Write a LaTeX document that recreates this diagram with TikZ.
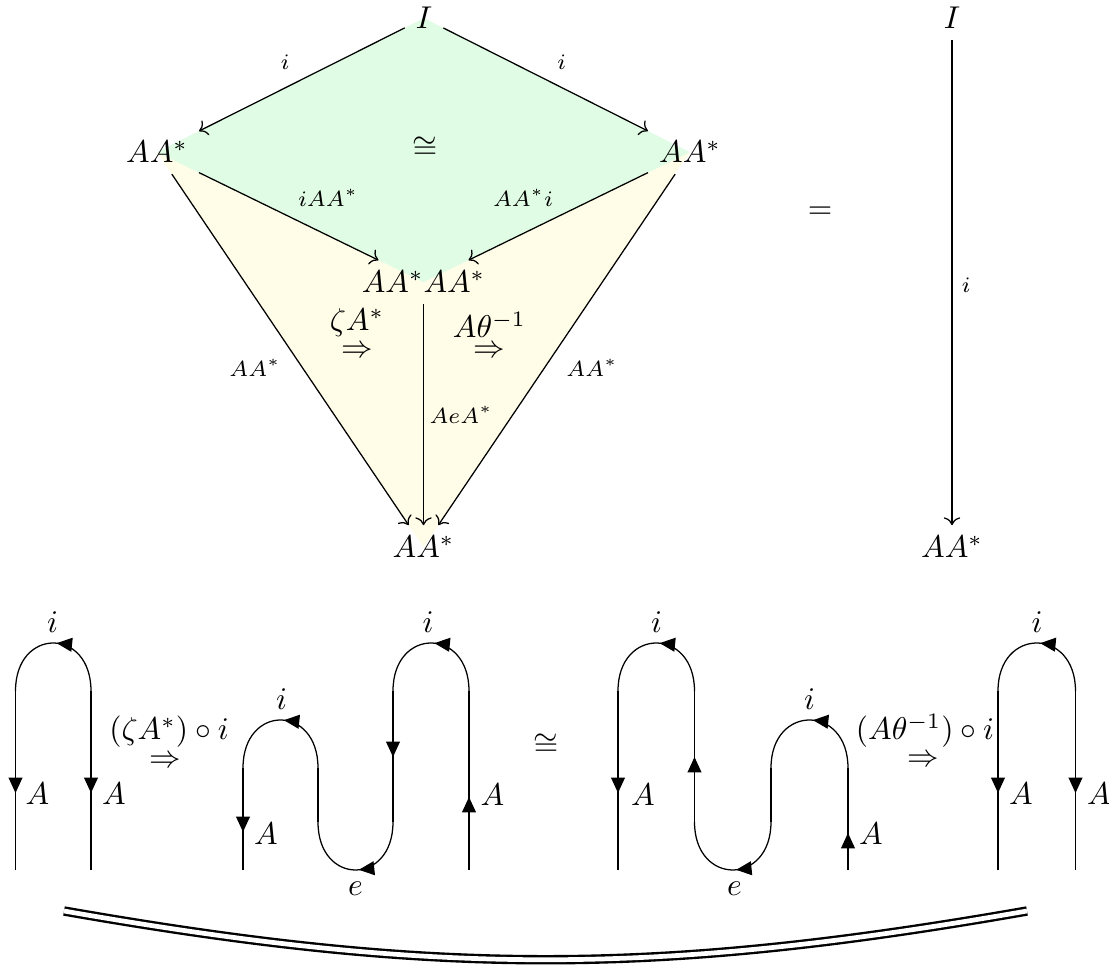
\documentclass[tikz,border=0pt]{standalone}
\usetikzlibrary{arrows.meta,decorations.markings,backgrounds}
\definecolor{gfill}{RGB}{224,252,228}
\definecolor{yfill}{RGB}{255,253,232}
\tikzset{stTip/.tip={Triangle[length=4.9pt,width=4.4pt]}}
\begin{document}
\begin{tikzpicture}[x=0.3175pt,y=-0.3175pt,
  obj/.style={anchor=base},
  lab/.style={font=\scriptsize},
  sl/.style={anchor=base,inner sep=0pt},
  archarrow/.style={postaction={decorate,decoration={markings,mark=at position 0.525 with {\arrowreversed{stTip}}}}},
  dbl/.style={double,double distance=1.5pt,line width=0.75pt}
]
\useasboundingbox (0,0) rectangle (1109,966);

% ---------- top diagram ----------
\node[obj] (I) at (424,29) {$I$};
\node[obj] (L) at (157,163) {$AA^*$};
\node[obj] (R) at (690,163) {$AA^*$};
\node[obj] (M) at (423.5,293) {$AA^*AA^*$};
\node[obj] (B) at (423.5,558) {$AA^*$};
\node[obj] (I2) at (952,29) {$I$};
\node[obj] (B2) at (952,558) {$AA^*$};

\begin{scope}[on background layer]
  \fill[yfill] (L.center) -- (M.center) -- (R.center) -- (B.center) -- cycle;
  \fill[gfill] (I.center) -- (L.center) -- (M.center) -- (R.center) -- cycle;
\end{scope}

\draw[->] (I) -- (L);
\draw[->] (I) -- (R);
\draw[->] (L) -- (M);
\draw[->] (R) -- (M);
\draw[->] (L) -- (B);
\draw[->] (R) -- (B);
\draw[->] (M) -- (B);
\draw[->] (I2) -- (B2);

\node[lab] (li1) at (285,62) {$i$};
\node[lab] (li2) at (561.5,62) {$i$};
\node[lab] (liAA) at (328,198) {$iAA^*$};
\node[lab] (lAAi) at (523,198) {$AA^*i$};
\node[lab] (lAAl) at (255,368) {$AA^*$};
\node[lab] (lAAr) at (592,368) {$AA^*$};
\node[lab] (lAeA) at (461,415) {$AeA^*$};
\node[lab] (li3) at (966,285) {$i$};

\node (cong1) at (425,148) {$\cong$};
\node (eq) at (820,213) {$=$};

\node[sl] (zl) at (357,331) {$\zeta A^*$};
\node[inner sep=0pt] (zr) at (357,352) {$\Rightarrow$};
\node[sl] (tl) at (489.5,338) {$A\theta^{-1}$};
\node[inner sep=0pt] (tr) at (489,352) {$\Rightarrow$};

% ---------- bottom string diagrams ----------
% diagram 1
\draw (15.5,870) -- (15.5,691);
\draw[archarrow] (15.5,691) .. controls (15.5,627) and (91,627) .. (91,691);
\draw (91,691) -- (91,870);
\draw[-{stTip}] (15.5,770) -- (15.5,793);
\draw[-{stTip}] (91,770) -- (91,793);
\node[sl] (d1A1) at (37.5,805) {$A$};
\node[sl] (d1A2) at (114,805) {$A$};
\node[sl] (d1i) at (52.5,633) {$i$};

% operator 1
\node[sl] (op1) at (169,740) {$(\zeta A^*)\circ i$};
\node[inner sep=0pt] (op1a) at (165.5,762) {$\Rightarrow$};

% diagram 2
\draw (243,870) -- (243,768);
\draw[archarrow] (243,768) .. controls (243,704) and (318,704) .. (318,768);
\draw (318,768) -- (318,822);
\draw[archarrow] (318,822) .. controls (318,886) and (393,886) .. (393,822);
\draw (393,822) -- (393,691);
\draw[archarrow] (393,691) .. controls (393,627) and (469,627) .. (469,691);
\draw (469,691) -- (469,870);
\draw[-{stTip}] (243,812) -- (243,832);
\draw[-{stTip}] (393,737) -- (393,757);
\draw[-{stTip}] (469,817) -- (469,797);
\node[sl] (d2A1) at (266,845) {$A$};
\node[sl] (d2A2) at (492.5,806) {$A$};
\node[sl] (d2i1) at (281.5,710) {$i$};
\node[sl] (d2i2) at (428,633) {$i$};
\node[sl] (d2e) at (355.5,896) {$e$};

% iso
\node (cong2) at (546,745) {$\cong$};

% diagram 3
\draw (618,870) -- (618,691);
\draw[archarrow] (618,691) .. controls (618,627) and (694.5,627) .. (694.5,691);
\draw (694.5,691) -- (694.5,822);
\draw[archarrow] (694.5,822) .. controls (694.5,886) and (771,886) .. (771,822);
\draw (771,822) -- (771,768);
\draw[archarrow] (771,768) .. controls (771,704) and (848,704) .. (848,768);
\draw (848,768) -- (848,870);
\draw[-{stTip}] (618,773) -- (618,793);
\draw[-{stTip}] (694.5,777) -- (694.5,757);
\draw[-{stTip}] (848,853) -- (848,833);
\node[sl] (d3A1) at (643,806) {$A$};
\node[sl] (d3A2) at (871,845) {$A$};
\node[sl] (d3i1) at (656.5,633) {$i$};
\node[sl] (d3i2) at (809.5,710) {$i$};
\node[sl] (d3e) at (734.5,896) {$e$};

% operator 2
\node[sl] (op2) at (925,740) {$(A\theta^{-1})\circ i$};
\node[inner sep=0pt] (op2a) at (923,761) {$\Rightarrow$};

% diagram 4
\draw (998,870) -- (998,691);
\draw[archarrow] (998,691) .. controls (998,627) and (1075.5,627) .. (1075.5,691);
\draw (1075.5,691) -- (1075.5,870);
\draw[-{stTip}] (998,773) -- (998,793);
\draw[-{stTip}] (1075.5,773) -- (1075.5,793);
\node[sl] (d4A1) at (1021,805) {$A$};
\node[sl] (d4A2) at (1099,805) {$A$};
\node[sl] (d4i) at (1037,633) {$i$};

% long equality
\coordinate (dl) at (64,911);
\coordinate (dr) at (1027,911);
\draw[dbl] (dl) .. controls (435,976) and (656,976) .. (dr);
\end{tikzpicture}
\end{document}
